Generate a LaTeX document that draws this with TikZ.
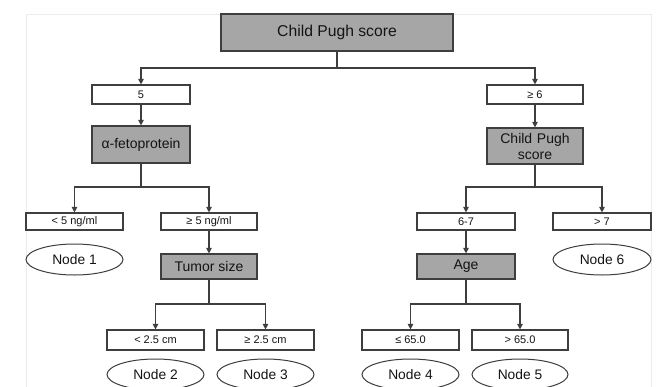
\documentclass[tikz,border=0pt]{standalone}
\usepackage{fontspec}
\setmainfont{Liberation Sans}
\usetikzlibrary{shapes.geometric,arrows.meta}
\definecolor{boxgray}{RGB}{166,166,166}
\definecolor{edge}{RGB}{62,62,62}
\definecolor{txt}{RGB}{20,20,20}
\definecolor{framec}{RGB}{236,236,236}
\tikzset{
  base/.style={draw=edge, line width=1.2pt, text=txt, inner sep=0pt, align=center},
  graybox/.style={base, rectangle, fill=boxgray, font=\fontsize{14}{16}\selectfont},
  whitebox/.style={base, rectangle, fill=white, font=\fontsize{11}{12}\selectfont},
  leaf/.style={base, ellipse, line width=1pt, fill=white, font=\fontsize{13.8}{15}\selectfont},
  conn/.style={draw=edge, line width=1.2pt},
  arr/.style={conn, -{Triangle[length=5.5pt,width=5.5pt]}}
}
\begin{document}
\begin{tikzpicture}[x=1pt,y=-1pt]
\useasboundingbox (0,0) rectangle (659,386);
\clip (0,0) rectangle (659,386);
\fill[white] (0,0) rectangle (659,386);
\draw[framec, line width=0.8pt] (26,14) -- (26,390);
\draw[framec, line width=0.8pt] (26,14) -- (651,14) -- (651,390);

\node[graybox, minimum width=232pt, minimum height=37pt, font=\fontsize{15.7}{18}\selectfont] (top) at (337,32.5) {Child Pugh score};

\node[whitebox, minimum width=98pt, minimum height=19pt] (c5) at (141,94.5) {5};
\node[whitebox, minimum width=96pt, minimum height=19pt] (ge6) at (535,94.5) {≥ 6};

\node[graybox, minimum width=98pt, minimum height=37pt] (afp) at (141,144.5) {α-fetoprotein};
\node[graybox, minimum width=96pt, minimum height=36pt, text width=90pt] (cp2) at (535,146) {Child Pugh\\score};

\node[whitebox, minimum width=97pt, minimum height=17pt] (lt5) at (74.5,221.5) {< 5 ng/ml};
\node[whitebox, minimum width=96pt, minimum height=17pt] (ge5) at (209,221.5) {≥ 5 ng/ml};
\node[whitebox, minimum width=98pt, minimum height=17pt] (s67) at (466,221.5) {6-7};
\node[whitebox, minimum width=98pt, minimum height=17pt] (gt7) at (602,221.5) {> 7};

\node[leaf, minimum width=97pt, minimum height=31pt] (n1) at (74.5,259.5) {Node 1};
\node[leaf, minimum width=98pt, minimum height=31pt] (n6) at (602,259.5) {Node 6};

\node[graybox, minimum width=96pt, minimum height=25pt] (tum) at (209,266.5) {Tumor size};
\node[graybox, minimum width=98pt, minimum height=25pt] (age) at (466,266.5) {Age};

\node[whitebox, minimum width=97pt, minimum height=20pt] (lt25) at (155.5,340) {< 2.5 cm};
\node[whitebox, minimum width=97pt, minimum height=20pt] (ge25) at (265.5,340) {≥ 2.5 cm};
\node[whitebox, minimum width=97pt, minimum height=20pt] (le65) at (410.5,340) {≤ 65.0};
\node[whitebox, minimum width=96pt, minimum height=20pt] (gt65) at (520,340) {> 65.0};

\node[leaf, minimum width=97pt, minimum height=31pt] (n2) at (155.5,374.5) {Node 2};
\node[leaf, minimum width=97pt, minimum height=31pt] (n3) at (265.5,374.5) {Node 3};
\node[leaf, minimum width=97pt, minimum height=31pt] (n4) at (410.5,374.5) {Node 4};
\node[leaf, minimum width=96pt, minimum height=31pt] (n5) at (520,374.5) {Node 5};

\coordinate (b0) at (337,68);
\coordinate (b1) at (141,187);
\coordinate (b2) at (535,187);
\coordinate (b3) at (209,304);
\coordinate (b4) at (466,304);

\draw[conn] (top.south) -- (b0);
\draw[arr] (b0) -| (c5.north);
\draw[arr] (b0) -| (ge6.north);
\draw[arr] (c5.south) -- (afp.north);
\draw[arr] (ge6.south) -- (cp2.north);

\draw[conn] (afp.south) -- (b1);
\draw[arr] (b1) -| (lt5.north);
\draw[arr] (b1) -| (ge5.north);
\draw[conn] (cp2.south) -- (b2);
\draw[arr] (b2) -| (s67.north);
\draw[arr] (b2) -| (gt7.north);

\draw[arr] (ge5.south) -- (tum.north);
\draw[arr] (s67.south) -- (age.north);

\draw[conn] (tum.south) -- (b3);
\draw[arr] (b3) -| (lt25.north);
\draw[arr] (b3) -| (ge25.north);
\draw[conn] (age.south) -- (b4);
\draw[arr] (b4) -| (le65.north);
\draw[arr] (b4) -| (gt65.north);
\end{tikzpicture}
\end{document}
